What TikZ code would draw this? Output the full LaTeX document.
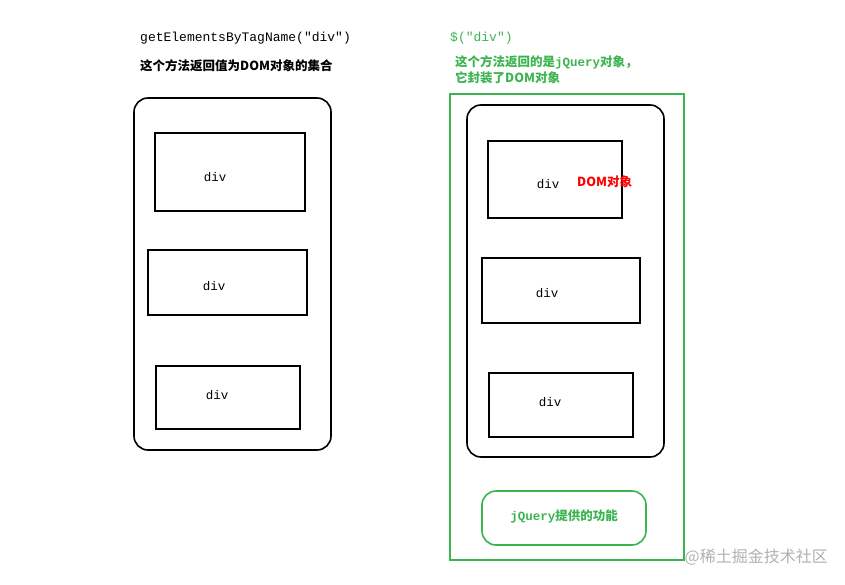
\documentclass[tikz,border=0pt]{standalone}
\usepackage{fontspec}
\newfontfamily\cjk{Noto Sans CJK SC}
\newfontfamily\mono{Liberation Mono}
\begin{document}
\begin{tikzpicture}[x=1pt,y=-1pt,
  box/.style={draw=black,line width=1.6pt},
  rbox/.style={box,rounded corners=14pt},
  lab/.style={font=\mono\fontsize{12.5}{14}\selectfont,inner sep=0},
  cn/.style={font=\cjk\fontsize{12.5}{16}\selectfont\bfseries,inner sep=0,anchor=west,align=left}]
\definecolor{gr}{RGB}{60,180,80}
\useasboundingbox (0,0) rectangle (845,585);
\fill[white] (0,0) rectangle (845,585);
\node[lab,anchor=west,font=\mono\fontsize{13}{15}\selectfont] (t1) at (140,38) {getElementsByTagName("div")};
\node[cn] (t2) at (140,66) {这个方法返回值为DOM对象的集合};
\node[lab,anchor=west,text=gr,font=\mono\fontsize{13}{15}\selectfont] (t3) at (450,38) {\$("div")};
\node[cn,text=gr] (t4) at (455,70) {这个方法返回的是\mono jQuery\cjk 对象，\\它封装了DOM对象};
\draw[rbox] (134,98) rectangle (331,450);
\draw[box] (155,133) rectangle (305,211);
\draw[box] (148,250) rectangle (307,315);
\draw[box] (156,366) rectangle (300,429);
\node[lab] (d1) at (215,177) {div};
\node[lab] (d2) at (214,286) {div};
\node[lab] (d3) at (217,395) {div};
\draw[draw=gr,line width=1.6pt] (450,94) rectangle (684,560);
\draw[rbox] (467,105) rectangle (664,457);
\draw[box] (488,141) rectangle (622,218);
\draw[box] (482,258) rectangle (640,323);
\draw[box] (489,373) rectangle (633,437);
\node[lab] (d4) at (548,184) {div};
\node[cn,text=red] (dom) at (577,182) {DOM对象};
\node[lab] (d5) at (547,293) {div};
\node[lab] (d6) at (550,402) {div};
\draw[draw=gr,line width=1.6pt,rounded corners=14pt] (482,491) rectangle (646,545);
\node[font=\cjk\fontsize{12.5}{14}\selectfont\bfseries,text=gr,inner sep=0] (jq) at (564,516) {\mono jQuery\cjk 提供的功能};
\node[font=\cjk\fontsize{16}{18}\selectfont,text=gray!60,inner sep=0,anchor=east] (wm) at (828,557) {@稀土掘金技术社区};
\end{tikzpicture}
\end{document}
